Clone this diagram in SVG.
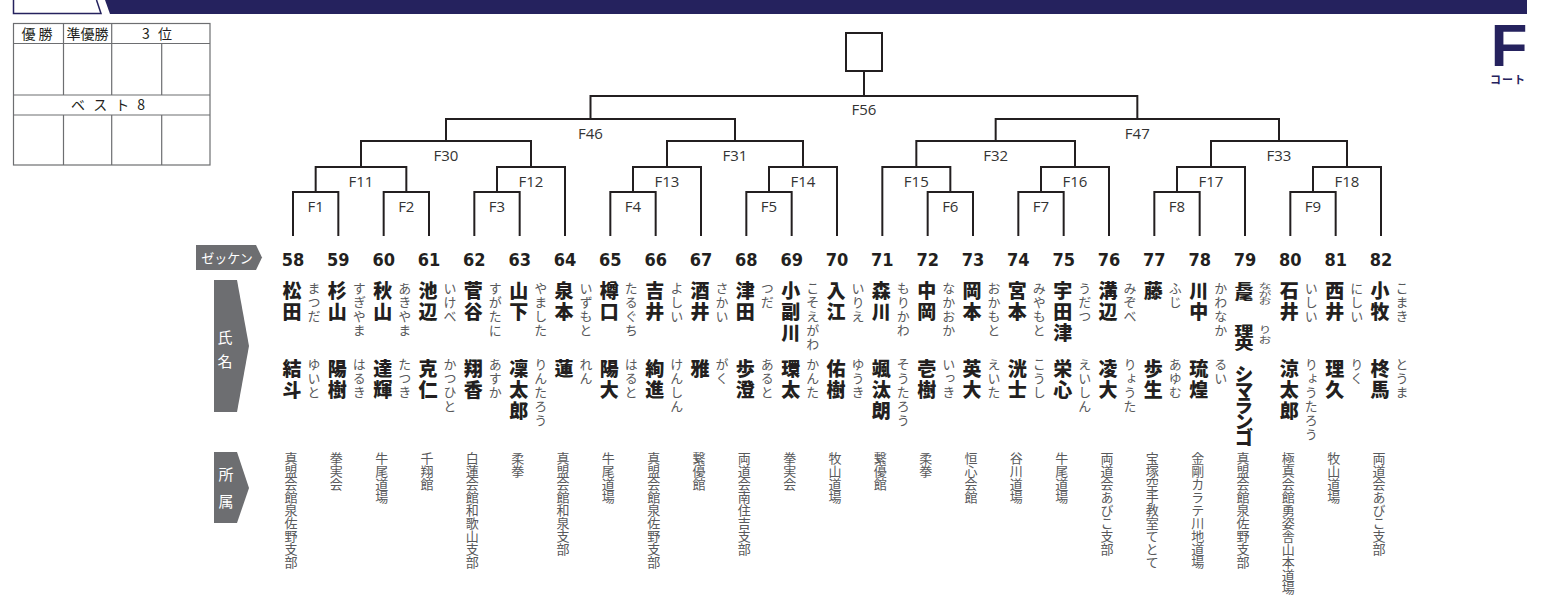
<svg xmlns="http://www.w3.org/2000/svg" width="1541" height="595" viewBox="0 0 1541 595">
<style>
.ln{stroke:#231f20;stroke-width:2;fill:none}
.tb{stroke:#6d6e71;stroke-width:1.2;fill:none}
.tt{font-family:"Noto Sans CJK JP","Noto Sans",sans-serif;font-size:14px;fill:#231f20;text-anchor:middle}
.ml{font-family:"Open Sans","Noto Sans",sans-serif;font-size:15px;fill:#333;text-anchor:middle}
.num{font-family:"DejaVu Sans Condensed","DejaVu Sans",sans-serif;font-weight:bold;font-size:18px;text-anchor:middle;fill:#231f20}
.nm{font-family:"Noto Sans CJK JP",sans-serif;font-weight:900;font-size:19px;writing-mode:vertical-rl;letter-spacing:2px;fill:#231f20}
.kn{font-family:"Noto Sans CJK JP",sans-serif;font-size:13px;writing-mode:vertical-rl;letter-spacing:1px;fill:#58595b}
.af{font-family:"Noto Sans CJK JP",sans-serif;font-size:13px;writing-mode:vertical-rl;fill:#58595b}
.lb{fill:#6d6e71}
.lt{font-family:"Noto Sans CJK JP",sans-serif;fill:#fff}
.navy{fill:#25225e}
</style>
<g id="header">
<path d="M13.5,0 V13.5 H101 L96.5,0" fill="#fff" stroke="#25225e" stroke-width="1.5"/>
<path class="navy" d="M105,0 H1527 V14 H110 Z"/>
<text x="1509" y="66" class="navy" style="font-family:'Liberation Sans',Arial,sans-serif;font-weight:bold;font-size:60px" text-anchor="middle">F</text>
<text x="1508" y="84" class="navy" style="font-family:'Noto Sans CJK JP',sans-serif;font-weight:bold;font-size:11px;letter-spacing:1px" text-anchor="middle">コート</text>
</g>
<g id="results-table">
<rect class="tb" x="13.5" y="23.5" width="196.5" height="141.5"/>
<path class="tb" d="M13.5,43.5 H210 M13.5,95 H210 M13.5,115 H210 M63.5,23.5 V95 M111.7,23.5 V95 M161.7,43.5 V95 M63.5,115 V165 M111.7,115 V165 M161.7,115 V165"/>
<text class="tt" x="38.5" y="39" style="letter-spacing:3px">優勝</text>
<text class="tt" x="87.6" y="39">準優勝</text>
<text class="tt" x="161" y="39" style="letter-spacing:8px">3位</text>
<text class="tt" x="112" y="110" style="letter-spacing:8px">ベスト8</text>
</g>
<g id="row-labels">
<g id="lbl-zekken"><polygon class="lb" points="196,245 256,245 262,257.5 256,270 196,270"/><text class="lt" x="227" y="262.5" font-size="13" text-anchor="middle">ゼッケン</text></g>
<g id="lbl-name"><polygon class="lb" points="214,280 237,280 249,346 237,412 214,412"/><text class="lt" x="225" y="330" style="font-size:15px;writing-mode:vertical-rl;letter-spacing:9px">氏名</text></g>
<g id="lbl-aff"><polygon class="lb" points="214,452 237,452 249,488 237,523 214,523"/><text class="lt" x="226" y="467" style="font-size:15px;writing-mode:vertical-rl;letter-spacing:12px">所属</text></g>
</g>
<g id="connectors">
<rect class="ln" x="846" y="33" width="36" height="38"/>
<path class="ln" d="M864,71 V96
M590.5,119 V96 H1137.33 V119
M446,141 V119 H735 V141
M995.67,141 V119 H1279 V141
M361,167 V141 H531 V167
M667,167 V141 H803 V167
M916.33,167 V141 H1075 V167
M1211,167 V141 H1347 V167
M315.67,192 V167 H406.33 V192
M497,192 V167 H565 V236
M633,192 V167 H701 V236
M769,192 V167 H837 V236
M882.33,236 V167 H950.33 V192
M1041,192 V167 H1109 V236
M1177,192 V167 H1245 V236
M1313,192 V167 H1381 V236
M293,236 V192 H338.33 V236
M383.67,236 V192 H429 V236
M474.33,236 V192 H519.67 V236
M610.33,236 V192 H655.67 V236
M746.33,236 V192 H791.67 V236
M927.67,236 V192 H973 V236
M1018.33,236 V192 H1063.67 V236
M1154.33,236 V192 H1199.67 V236
M1290.33,236 V192 H1335.67 V236"/>
</g>
<g id="match-labels">
<text class="ml" x="864" y="115">F56</text>
<text class="ml" x="590.5" y="139">F46</text>
<text class="ml" x="1137.3" y="139">F47</text>
<text class="ml" x="446" y="161">F30</text>
<text class="ml" x="735" y="161">F31</text>
<text class="ml" x="995.7" y="161">F32</text>
<text class="ml" x="1279" y="161">F33</text>
<text class="ml" x="361" y="187">F11</text>
<text class="ml" x="531" y="187">F12</text>
<text class="ml" x="667" y="187">F13</text>
<text class="ml" x="803" y="187">F14</text>
<text class="ml" x="916.3" y="187">F15</text>
<text class="ml" x="1075" y="187">F16</text>
<text class="ml" x="1211" y="187">F17</text>
<text class="ml" x="1347" y="187">F18</text>
<text class="ml" x="315.7" y="212">F1</text>
<text class="ml" x="406.3" y="212">F2</text>
<text class="ml" x="497" y="212">F3</text>
<text class="ml" x="633" y="212">F4</text>
<text class="ml" x="769" y="212">F5</text>
<text class="ml" x="950.3" y="212">F6</text>
<text class="ml" x="1041" y="212">F7</text>
<text class="ml" x="1177" y="212">F8</text>
<text class="ml" x="1313" y="212">F9</text>
</g>
<g id="players">
<g id="p58" transform="translate(293,0)"><text class="num" y="266">58</text><text class="nm" x="-1" y="281">松田</text><text class="kn" x="21" y="282">まつだ</text><text class="nm" x="-1" y="359">結斗</text><text class="kn" x="21" y="358">ゆいと</text><text class="af" x="-2" y="452">真盟会館泉佐野支部</text></g>
<g id="p59" transform="translate(338.33,0)"><text class="num" y="266">59</text><text class="nm" x="-1" y="281">杉山</text><text class="kn" x="21" y="282">すぎやま</text><text class="nm" x="-1" y="359">陽樹</text><text class="kn" x="21" y="358">はるき</text><text class="af" x="-2" y="452">拳実会</text></g>
<g id="p60" transform="translate(383.67,0)"><text class="num" y="266">60</text><text class="nm" x="-1" y="281">秋山</text><text class="kn" x="21" y="282">あきやま</text><text class="nm" x="-1" y="359">達輝</text><text class="kn" x="21" y="358">たつき</text><text class="af" x="-2" y="452">牛尾道場</text></g>
<g id="p61" transform="translate(429,0)"><text class="num" y="266">61</text><text class="nm" x="-1" y="281">池辺</text><text class="kn" x="21" y="282">いけべ</text><text class="nm" x="-1" y="359">克仁</text><text class="kn" x="21" y="358">かつひと</text><text class="af" x="-2" y="452">千翔館</text></g>
<g id="p62" transform="translate(474.33,0)"><text class="num" y="266">62</text><text class="nm" x="-1" y="281">菅谷</text><text class="kn" x="21" y="282">すがたに</text><text class="nm" x="-1" y="359">翔香</text><text class="kn" x="21" y="358">あすか</text><text class="af" x="-2" y="452">白蓮会館和歌山支部</text></g>
<g id="p63" transform="translate(519.67,0)"><text class="num" y="266">63</text><text class="nm" x="-1" y="281">山下</text><text class="kn" x="21" y="282">やました</text><text class="nm" x="-1" y="359">凜太郎</text><text class="kn" x="21" y="358">りんたろう</text><text class="af" x="-2" y="452">柔拳</text></g>
<g id="p64" transform="translate(565,0)"><text class="num" y="266">64</text><text class="nm" x="-1" y="281">泉本</text><text class="kn" x="21" y="282">いずもと</text><text class="nm" x="-1" y="359">蓮</text><text class="kn" x="21" y="358">れん</text><text class="af" x="-2" y="452">真盟会館和泉支部</text></g>
<g id="p65" transform="translate(610.33,0)"><text class="num" y="266">65</text><text class="nm" x="-1" y="281">樽口</text><text class="kn" x="21" y="282">たるぐち</text><text class="nm" x="-1" y="359">陽大</text><text class="kn" x="21" y="358">はると</text><text class="af" x="-2" y="452">牛尾道場</text></g>
<g id="p66" transform="translate(655.67,0)"><text class="num" y="266">66</text><text class="nm" x="-1" y="281">吉井</text><text class="kn" x="21" y="282">よしい</text><text class="nm" x="-1" y="359">絢進</text><text class="kn" x="21" y="358">けんしん</text><text class="af" x="-2" y="452">真盟会館泉佐野支部</text></g>
<g id="p67" transform="translate(701,0)"><text class="num" y="266">67</text><text class="nm" x="-1" y="281">酒井</text><text class="kn" x="21" y="282">さかい</text><text class="nm" x="-1" y="359">雅</text><text class="kn" x="21" y="358">がく</text><text class="af" x="-2" y="452">繋優館</text></g>
<g id="p68" transform="translate(746.33,0)"><text class="num" y="266">68</text><text class="nm" x="-1" y="281">津田</text><text class="kn" x="21" y="282">つだ</text><text class="nm" x="-1" y="359">歩澄</text><text class="kn" x="21" y="358">あると</text><text class="af" x="-2" y="452">両道会南住吉支部</text></g>
<g id="p69" transform="translate(791.67,0)"><text class="num" y="266">69</text><text class="nm" x="-1" y="281">小副川</text><text class="kn" x="21" y="282">こそえがわ</text><text class="nm" x="-1" y="359">環太</text><text class="kn" x="21" y="358">かんた</text><text class="af" x="-2" y="452">拳実会</text></g>
<g id="p70" transform="translate(837,0)"><text class="num" y="266">70</text><text class="nm" x="-1" y="281">入江</text><text class="kn" x="21" y="282">いりえ</text><text class="nm" x="-1" y="359">佑樹</text><text class="kn" x="21" y="358">ゆうき</text><text class="af" x="-2" y="452">牧山道場</text></g>
<g id="p71" transform="translate(882.33,0)"><text class="num" y="266">71</text><text class="nm" x="-1" y="281">森川</text><text class="kn" x="21" y="282">もりかわ</text><text class="nm" x="-1" y="359">颯汰朗</text><text class="kn" x="21" y="358">そうたろう</text><text class="af" x="-2" y="452">繋優館</text></g>
<g id="p72" transform="translate(927.67,0)"><text class="num" y="266">72</text><text class="nm" x="-1" y="281">中岡</text><text class="kn" x="21" y="282">なかおか</text><text class="nm" x="-1" y="359">壱樹</text><text class="kn" x="21" y="358">いっき</text><text class="af" x="-2" y="452">柔拳</text></g>
<g id="p73" transform="translate(973,0)"><text class="num" y="266">73</text><text class="nm" x="-1" y="281">岡本</text><text class="kn" x="21" y="282">おかもと</text><text class="nm" x="-1" y="359">英大</text><text class="kn" x="21" y="358">えいた</text><text class="af" x="-2" y="452">恒心会館</text></g>
<g id="p74" transform="translate(1018.33,0)"><text class="num" y="266">74</text><text class="nm" x="-1" y="281">宮本</text><text class="kn" x="21" y="282">みやもと</text><text class="nm" x="-1" y="359">洸士</text><text class="kn" x="21" y="358">こうし</text><text class="af" x="-2" y="452">谷川道場</text></g>
<g id="p75" transform="translate(1063.67,0)"><text class="num" y="266">75</text><text class="nm" x="-1" y="281">宇田津</text><text class="kn" x="21" y="282">うだつ</text><text class="nm" x="-1" y="359">栄心</text><text class="kn" x="21" y="358">えいしん</text><text class="af" x="-2" y="452">牛尾道場</text></g>
<g id="p76" transform="translate(1109,0)"><text class="num" y="266">76</text><text class="nm" x="-1" y="281">溝辺</text><text class="kn" x="21" y="282">みぞべ</text><text class="nm" x="-1" y="359">凌大</text><text class="kn" x="21" y="358">りょうた</text><text class="af" x="-2" y="452">両道会あびこ支部</text></g>
<g id="p77" transform="translate(1154.33,0)"><text class="num" y="266">77</text><text class="nm" x="-1" y="281">藤</text><text class="kn" x="21" y="282">ふじ</text><text class="nm" x="-1" y="359">歩生</text><text class="kn" x="21" y="358">あゆむ</text><text class="af" x="-2" y="452">宝塚空手教室てとて</text></g>
<g id="p78" transform="translate(1199.67,0)"><text class="num" y="266">78</text><text class="nm" x="-1" y="281">川中</text><text class="kn" x="21" y="282">かわなか</text><text class="nm" x="-1" y="359">琉煌</text><text class="kn" x="21" y="358">るい</text><text class="af" x="-2" y="452">金剛カラテ川地道場</text></g>
<g id="p79" transform="translate(1245,0)"><text class="num" y="266">79</text>
<text class="nm" transform="translate(-1,282) scale(1,0.5)" style="letter-spacing:0">長尾</text>
<text class="kn" transform="translate(20,282) scale(1,0.6)" style="letter-spacing:0">ながお</text>
<text class="nm" transform="translate(-1,324) scale(1,0.7)" style="letter-spacing:0">理央</text>
<text class="kn" transform="translate(20,325) scale(1,0.72)" style="letter-spacing:0">りお</text>
<text class="nm" x="-1" y="364" style="letter-spacing:-3px">シマランゴ</text><text class="af" x="-2" y="452">真盟会館泉佐野支部</text></g>
<g id="p80" transform="translate(1290.33,0)"><text class="num" y="266">80</text><text class="nm" x="-1" y="281">石井</text><text class="kn" x="21" y="282">いしい</text><text class="nm" x="-1" y="359">涼太郎</text><text class="kn" x="21" y="358">りょうたろう</text><text class="af" x="-2" y="452">極真会館勇姿舎山本道場</text></g>
<g id="p81" transform="translate(1335.67,0)"><text class="num" y="266">81</text><text class="nm" x="-1" y="281">西井</text><text class="kn" x="21" y="282">にしい</text><text class="nm" x="-1" y="359">理久</text><text class="kn" x="21" y="358">りく</text><text class="af" x="-2" y="452">牧山道場</text></g>
<g id="p82" transform="translate(1381,0)"><text class="num" y="266">82</text><text class="nm" x="-1" y="281">小牧</text><text class="kn" x="21" y="282">こまき</text><text class="nm" x="-1" y="359">柊馬</text><text class="kn" x="21" y="358">とうま</text><text class="af" x="-2" y="452">両道会あびこ支部</text></g>
</g>
</svg>
